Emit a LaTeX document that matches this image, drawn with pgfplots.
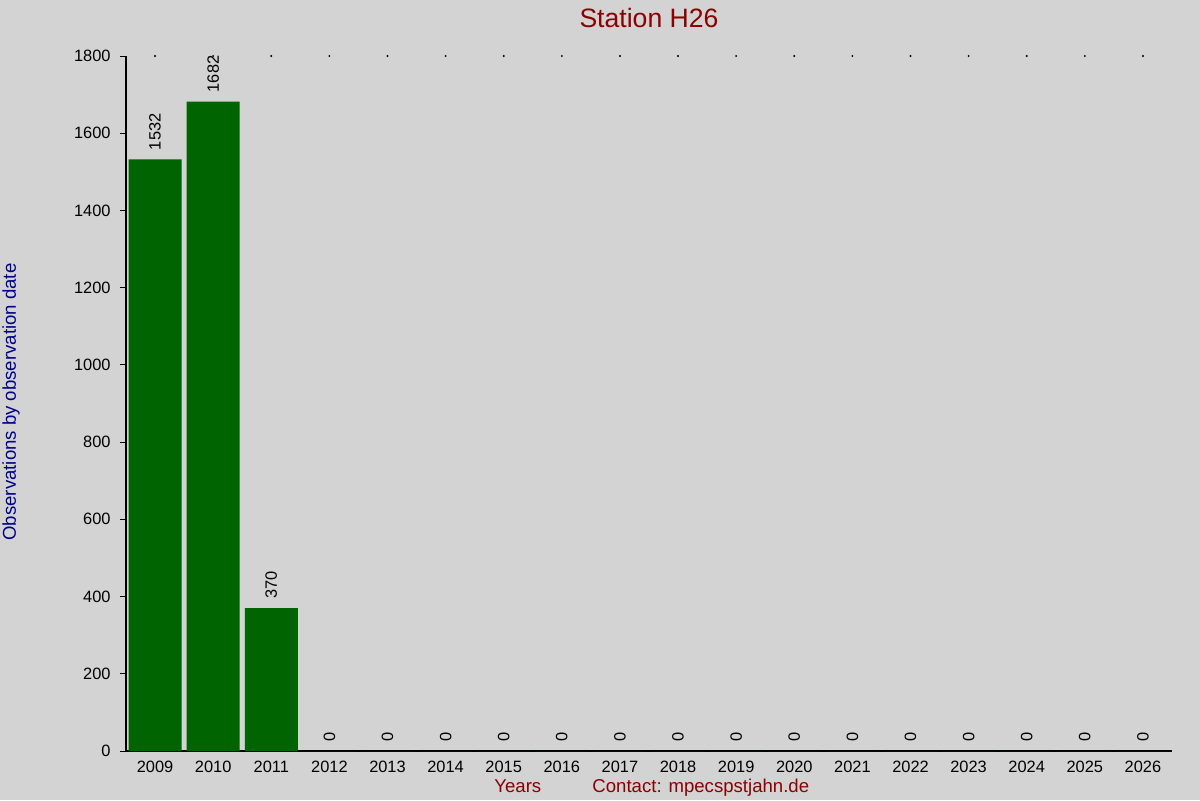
\documentclass[border=0pt]{standalone}
\usepackage{pgfplots}
\pgfplotsset{compat=1.18}
\usepackage{fontspec}
\setmainfont{Liberation Sans}
\definecolor{bg}{RGB}{211,211,211}
\definecolor{bargreen}{RGB}{0,100,0}
\definecolor{dred}{RGB}{139,0,0}
\definecolor{dblue}{RGB}{0,0,139}
\begin{document}
\begin{tikzpicture}[x=1pt,y=1pt]
\fill[bg] (0,0) rectangle (600,400);
\useasboundingbox (0,0) rectangle (600,400);
\begin{axis}[
  at={(63pt,24.5pt)}, anchor=south west,
  scale only axis, width=523pt, height=347.5pt,
  xmin=-0.5, xmax=17.5, ymin=0, ymax=1800,
  axis x line=bottom, axis y line=left,
  axis line style={-, black, line width=0.6pt},
  ytick={0,200,...,1800},
  xtick={0,...,17},
  xticklabels={2009,2010,2011,2012,2013,2014,2015,2016,2017,2018,2019,2020,2021,2022,2023,2024,2025,2026},
  major tick length=3pt, tick align=outside,
  xtick style={draw=none},
  ytick style={black, line width=0.5pt},
  tick label style={font=\fontsize{8.2}{9}\selectfont, black},
  /pgf/number format/assume math mode=true,
  /pgf/number format/1000 sep={},
  yticklabel style={inner xsep=4.5pt},
  xticklabel style={inner ysep=2pt},
  clip=false,
]
\addplot[ybar, bar width=26.5pt, bar shift=0pt, fill=bargreen, draw=none,
  nodes near coords,
  every node near coord/.append style={rotate=90, anchor=west, inner xsep=4.5pt, inner ysep=0pt, font=\fontsize{8.2}{9}\selectfont, black}]
  coordinates {(0,1532)(1,1682)(2,370)(3,0)(4,0)(5,0)(6,0)(7,0)(8,0)(9,0)(10,0)(11,0)(12,0)(13,0)(14,0)(15,0)(16,0)(17,0)};
\addplot[only marks, mark=*, mark size=0.25pt, black]
  coordinates {(0,1800)(1,1800)(2,1800)(3,1800)(4,1800)(5,1800)(6,1800)(7,1800)(8,1800)(9,1800)(10,1800)(11,1800)(12,1800)(13,1800)(14,1800)(15,1800)(16,1800)(17,1800)};
\end{axis}
\node[dred, font=\fontsize{13.3}{15}\selectfont] at (324.5,391) {Station H26};
\node[dblue, rotate=90, font=\fontsize{9.3}{11}\selectfont] at (5.5,199) {Observations by observation date};
\node[dred, anchor=base west, inner sep=0pt, font=\fontsize{9.3}{11}\selectfont] at (247,4) {Years};
\node[dred, anchor=base west, inner sep=0pt, font=\fontsize{9.3}{11}\selectfont] at (296,4) {Contact: mpecspstjahn.de};
\end{tikzpicture}
\end{document}
